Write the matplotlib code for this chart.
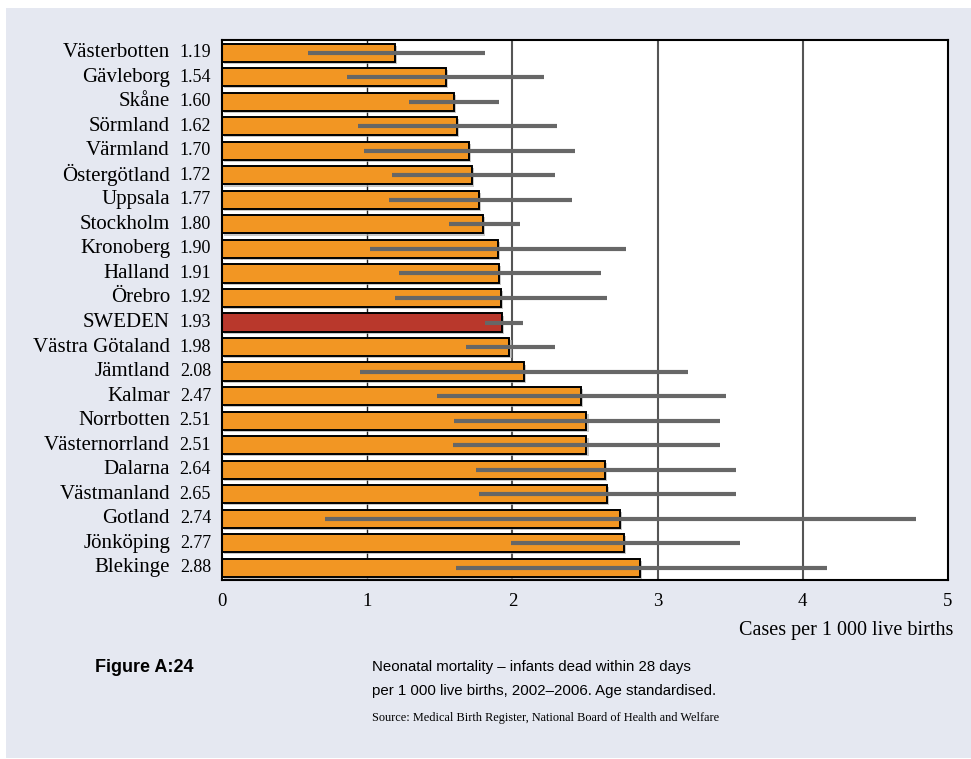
import matplotlib.pyplot as plt
import matplotlib.patheffects as pe
from matplotlib.patches import Rectangle
from matplotlib.transforms import blended_transform_factory, offset_copy

# Neonatal mortality by county, per 1 000 live births (2002-2006), with 95% CI
counties = ["Västerbotten", "Gävleborg", "Skåne", "Sörmland", "Värmland",
            "Östergötland", "Uppsala", "Stockholm", "Kronoberg", "Halland",
            "Örebro", "SWEDEN", "Västra Götaland", "Jämtland", "Kalmar",
            "Norrbotten", "Västernorrland", "Dalarna", "Västmanland",
            "Gotland", "Jönköping", "Blekinge"]
rates = [1.19, 1.54, 1.60, 1.62, 1.70, 1.72, 1.77, 1.80, 1.90, 1.91, 1.92,
         1.93, 1.98, 2.08, 2.47, 2.51, 2.51, 2.64, 2.65, 2.74, 2.77, 2.88]
ci_low = [0.59, 0.86, 1.29, 0.94, 0.98, 1.17, 1.15, 1.56, 1.02, 1.22, 1.19,
          1.81, 1.68, 0.95, 1.48, 1.60, 1.59, 1.75, 1.77, 0.71, 1.99, 1.61]
ci_high = [1.81, 2.22, 1.91, 2.31, 2.43, 2.29, 2.41, 2.05, 2.78, 2.61, 2.65,
           2.07, 2.29, 3.21, 3.47, 3.43, 3.43, 3.54, 3.54, 4.78, 3.57, 4.17]
x_ticks = [0, 1, 2, 3, 4, 5]

ORANGE = "#f29623"
RED = "#b9382c"
BG = "#e5e8f1"
serif = ["Liberation Serif", "DejaVu Serif"]
sans = ["Liberation Sans", "DejaVu Sans"]

fig = plt.figure(figsize=(9.71, 7.59), dpi=100, facecolor="white")
fig.patches.append(Rectangle((6 / 971, 1 / 759), 1, 1 - 9 / 759,
                             transform=fig.transFigure, facecolor=BG,
                             edgecolor="none", zorder=-10))

ax = fig.add_axes([222 / 971, 1 - 580 / 759, 726 / 971, 540 / 759])
ax.set_facecolor("white")

y = list(range(len(counties)))
colors = [RED if c == "SWEDEN" else ORANGE for c in counties]

for gx in [1, 2, 3, 4]:
    ax.axvline(gx, color="#222222" if gx < 2 else "#555555",
               lw=1.0 if gx < 2 else 1.5, zorder=0)

bars = ax.barh(y, rates, height=0.74, color=colors, edgecolor="black",
               linewidth=1.4, zorder=2)
for b in bars:
    b.set_path_effects([pe.SimplePatchShadow(offset=(1.5, -1.5),
                                             shadow_rgbFace="#b0b0b0",
                                             alpha=0.7),
                        pe.Normal()])

ax.hlines(y, ci_low, ci_high, color="#676767", lw=3.0, zorder=3)

ax.set_xlim(0, 5)
ax.set_ylim(len(counties) - 0.5, -0.52)
ax.set_yticks([])
ax.set_xticks(x_ticks)
ax.set_xticklabels([str(t) for t in x_ticks], family=serif, fontsize=13.5)
ax.tick_params(axis="x", length=0, pad=9)
for s in ax.spines.values():
    s.set_linewidth(1.5)
    s.set_color("black")

# county names and their rates to the left of the axes
trans = blended_transform_factory(ax.transAxes, ax.transData)
name_tr = offset_copy(trans, fig=fig, x=-52, y=0, units="dots")
val_tr = offset_copy(trans, fig=fig, x=-11, y=0, units="dots")
for yi, name, r in zip(y, counties, rates):
    ax.text(0, yi, name, transform=name_tr, ha="right", va="center",
            family=serif, fontsize=15)
    ax.text(0, yi, f"{r:.2f}", transform=val_tr, ha="right", va="center",
            family=serif, fontsize=13)

fig.text(953 / 971, 1 - 631 / 759, "Cases per 1 000 live births",
         ha="right", va="center", family=serif, fontsize=14.5)

fig.text(95 / 971, 1 - 667 / 759, "Figure A:24", ha="left", va="center",
         family=sans, fontsize=13, weight="bold")
fig.text(372 / 971, 1 - 667 / 759,
         "Neonatal mortality – infants dead within 28 days",
         ha="left", va="center", family=sans, fontsize=10.8)
fig.text(372 / 971, 1 - 691 / 759,
         "per 1 000 live births, 2002–2006. Age standardised.",
         ha="left", va="center", family=sans, fontsize=10.8)
fig.text(372 / 971, 1 - 718 / 759,
         "Source: Medical Birth Register, National Board of Health and Welfare",
         ha="left", va="center", family=serif, fontsize=8.8)

fig.savefig("out.png", dpi=100, facecolor=fig.get_facecolor())
